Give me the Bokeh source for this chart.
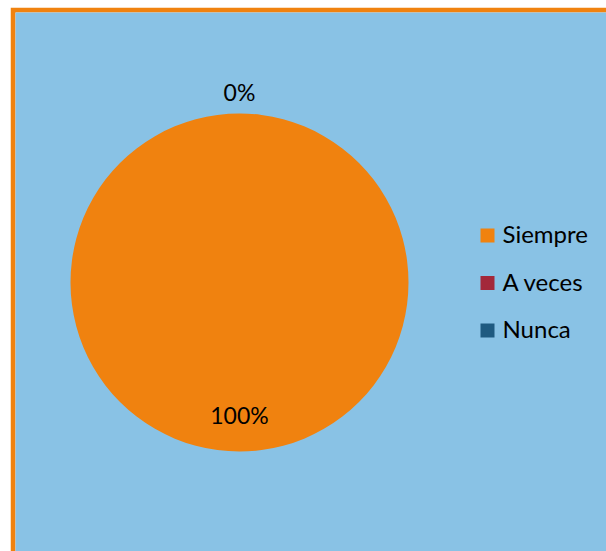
import numpy as np
from bokeh.plotting import figure
from bokeh.models import Range1d, ColumnDataSource
from bokeh.core.properties import value
from bokeh.embed import file_html
from bokeh.resources import INLINE

categories = ["Siempre", "A veces", "Nunca"]
values = [100, 0, 0]
colors = ["#F0820F", "#A3283A", "#1F5A80"]

FONT = "Lato"
W, H = 596, 544
ML, MT = 5, 5
FW, FH = W - ML, H - MT

p = figure(width=W, height=H, output_backend="svg", toolbar_location=None,
           x_range=Range1d(0, FW), y_range=Range1d(0, FH),
           min_border_left=ML, min_border_top=MT, min_border_right=0, min_border_bottom=0,
           margin=(7, 0, 0, 10))
p.axis.visible = False
p.grid.visible = False
p.outline_line_color = None
p.background_fill_color = "#89C2E5"
p.border_fill_color = "#F0820F"

cx, cy, r = 224, 269, 169
total = sum(values)
fracs = np.array(values, dtype=float) / total
ends = np.pi / 2 - 2 * np.pi * np.cumsum(fracs)
starts = np.concatenate([[np.pi / 2], ends[:-1]])
# avoid degenerate full circle in svg
ends_draw = np.where(np.isclose(starts - ends, 2 * np.pi), ends + 1e-6, ends)

mask = np.array(values) > 0
wsrc = ColumnDataSource(dict(
    s=starts[mask], e=ends_draw[mask],
    c=[col for col, m in zip(colors, mask) if m],
))
p.wedge(x=cx, y=cy, radius=r, start_angle="s", end_angle="e",
        direction="clock", fill_color="c", line_color=None, source=wsrc)

# data labels
lx, ly, lt = [], [], []
seen = set()
for i, v in enumerate(values):
    mid = (starts[i] + ends[i]) / 2
    txt = f"{round(fracs[i] * 100)}%"
    dist = 0.79 * r if v > 0 else 1.12 * r
    key = (round(mid, 4), txt)
    if key in seen:
        continue
    seen.add(key)
    lx.append(cx + dist * np.cos(mid))
    ly.append(cy + dist * np.sin(mid) + 1)
    lt.append(txt)
p.text(x=lx, y=ly, text=lt, text_align="center", text_baseline="middle",
       text_font=value(FONT), text_font_size="23px", text_color="#000000")

# legend (drawn manually)
leg_x, leg_top, leg_step = 472, 316, 47.5
n = len(categories)
ys = [leg_top - k * leg_step for k in range(n)]
p.rect(x=[leg_x] * n, y=ys, width=14, height=14, fill_color=colors, line_color=None)
p.text(x=[leg_x + 15] * n, y=[y + 2 for y in ys], text=categories, text_align="left",
       text_baseline="middle", text_font=value(FONT), text_font_size="24px",
       text_color="#000000")

open("out.html", "w").write(file_html(p, INLINE))
